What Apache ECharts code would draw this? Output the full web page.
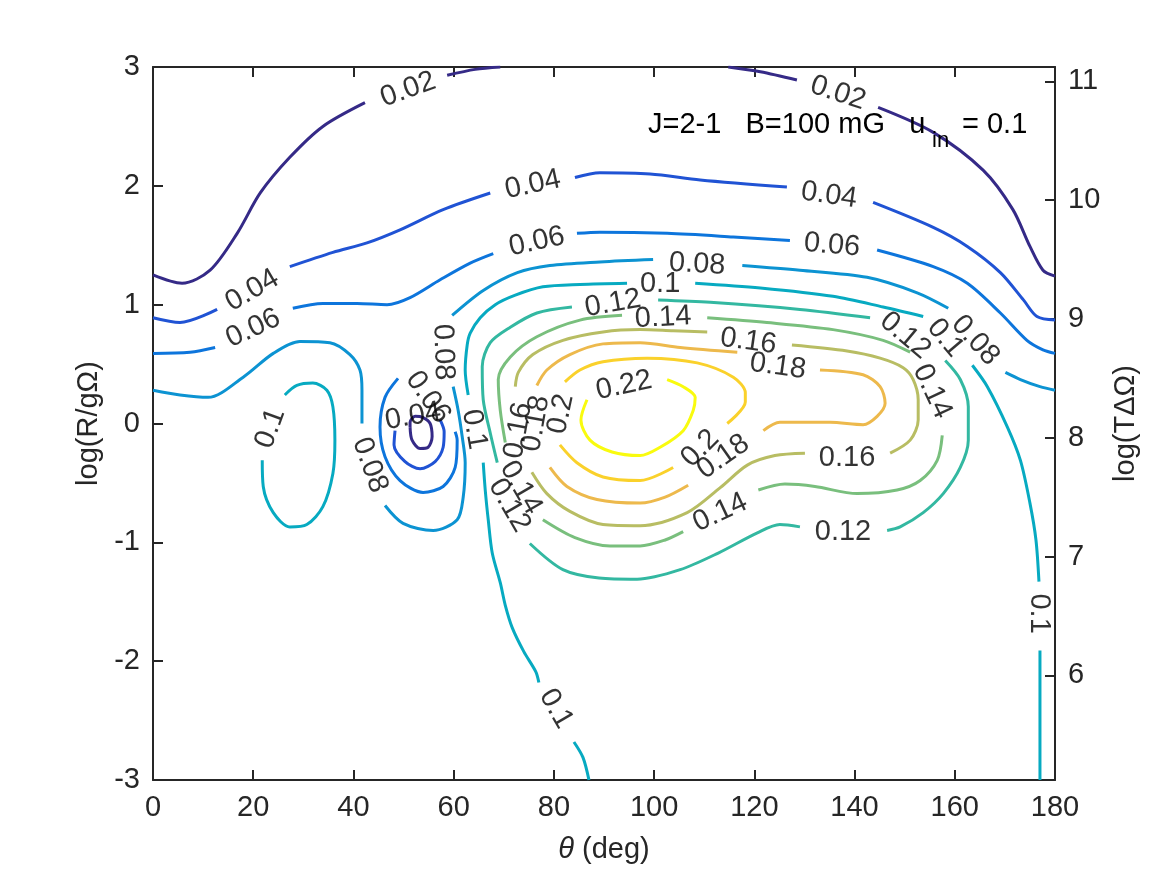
<!DOCTYPE html>
<html><head><meta charset="utf-8">
<script src="https://cdn.jsdelivr.net/npm/echarts@6/dist/echarts.min.js"></script>
<style>html,body{margin:0;padding:0;background:#fff}#c{width:1167px;height:875px}</style>
</head><body><div id="c"></div>
<script>
// contour levels and parula colours
const levels = ['0.02','0.04','0.06','0.08','0.1','0.12','0.14','0.16','0.18','0.2','0.22'];
const colors = ['#352a87','#2053d4','#0d75dc','#0c93d2','#07aac1','#33b8a1','#79bf7d','#b8bd63','#edb94c','#fad12b','#f9fb0e'];
const xTicks = [0,20,40,60,80,100,120,140,160,180];
const rightTicks = [6,7,8,9,10,11];

// contour segments: [theta (deg), log(R/gOmega)]
const c002 = [
 [[0,1.25],[5.8,1.18],[11.4,1.29],[16.8,1.60],[21.4,1.94],[27.3,2.24],[33.9,2.50],[42.3,2.70]],
 [[58.7,2.93],[64.3,2.98],[69.3,3.0]],
 [[114.8,3.0],[121.2,2.96],[128.5,2.89]],
 [[144.7,2.66],[155.7,2.45],[165.7,2.13],[171.6,1.80],[175.0,1.49],[177.6,1.29],[180,1.24]],
 [[51.3,-0.03],[51.7,-0.14],[53.3,-0.21],[54.9,-0.20],[55.7,-0.11],[55.3,0.0],[53.9,0.05],[52.3,0.06],[51.3,0.01],[51.3,-0.03]]
];
const c004 = [
 [[0,0.89],[5.4,0.85],[12.8,0.96]],
 [[27.3,1.32],[35.9,1.44],[42.7,1.52],[49.3,1.63],[57.9,1.80],[67.3,1.94]],
 [[84.2,2.07],[89.2,2.11],[99.2,2.10],[109.2,2.05],[126.5,1.99]],
 [[143.7,1.86],[155.7,1.65],[162.5,1.49],[169.1,1.27],[173.7,1.04],[176.4,0.90],[180,0.87]],
 [[57.3,0.03],[58.1,-0.07],[57.9,-0.20],[56.3,-0.32],[53.3,-0.38],[50.3,-0.32],[48.1,-0.18],[48.3,-0.06]]
];
const c006 = [
 [[0,0.59],[7.4,0.60],[12.4,0.64]],
 [[27.9,0.97],[33.9,1.01],[40.7,1.01],[46.7,1.00],[51.3,1.06],[57.3,1.21],[63.3,1.35],[67.9,1.43]],
 [[84.6,1.60],[89.2,1.61],[102.6,1.60],[115.8,1.57],[127.1,1.54]],
 [[144.5,1.46],[155.7,1.32],[162.5,1.18],[169.1,0.93],[174.4,0.70],[177.6,0.62],[180,0.59]],
 [[60.3,-0.07],[60.7,-0.14],[60.3,-0.37],[57.9,-0.53],[53.9,-0.58],[49.3,-0.48],[46.3,-0.28],[45.3,-0.03],[46.3,0.22],[48.9,0.38]]
];
const c008 = [
 [[0,0.28],[5.4,0.24],[11.0,0.22],[18.0,0.39],[24.0,0.59],[29.3,0.69],[35.3,0.68],[39.3,0.58],[41.3,0.45],[41.7,0.28],[41.7,0.0]],
 [[46.3,-0.69],[49.9,-0.84],[55.9,-0.90],[60.7,-0.81],[61.9,-0.62],[62.3,-0.33],[61.7,-0.11],[60.9,0.11],[59.9,0.31]],
 [[59.7,0.91],[65.9,1.12],[72.7,1.27],[79.2,1.33],[89.2,1.36],[99.8,1.38]],
 [[117.6,1.33],[129.1,1.29],[142.5,1.23],[152.5,1.10],[158.7,0.97]],
 [[170.1,0.43],[173.1,0.37],[177.0,0.31],[180,0.28]]
];
const c010 = [
 [[87.0,-3.0],[85.8,-2.81],[84.0,-2.68]],
 [[77.0,-2.18],[76.4,-2.09],[74.0,-1.92],[71.7,-1.72],[70.3,-1.53],[69.3,-1.34],[67.7,-1.09],[66.9,-0.81],[66.3,-0.56],[65.9,-0.33]],
 [[62.9,0.24],[62.3,0.45],[62.7,0.66],[63.3,0.76],[65.3,0.89],[68.3,1.00],[72.3,1.08],[77.8,1.15],[85.2,1.17],[94.6,1.18]],
 [[108.2,1.18],[121.2,1.14],[135.7,1.07],[145.7,0.98],[153.7,0.90]],
 [[163.5,0.49],[166.5,0.31],[170.5,-0.03],[173.1,-0.31],[175.0,-0.67],[176.2,-0.98],[176.8,-1.33]],
 [[177.0,-1.91],[177.0,-2.61],[177.0,-3.0]],
 [[21.8,-0.31],[22.0,-0.53],[24.0,-0.75],[27.3,-0.87],[30.7,-0.85],[33.9,-0.70],[35.9,-0.42],[36.3,-0.14],[35.9,0.14],[34.7,0.28],[31.9,0.34],[28.7,0.32],[26.3,0.24]]
];
const c012 = [
 [[68.7,-0.33],[67.3,-0.08],[65.9,0.20],[65.7,0.48],[67.3,0.68],[71.3,0.81],[76.6,0.93],[83.6,0.98]],
 [[100.8,1.04],[111.2,1.02],[129.1,0.96],[143.1,0.89]],
 [[158.1,0.53],[161.1,0.37],[162.7,0.14],[162.7,-0.14],[161.1,-0.37],[157.7,-0.59],[153.7,-0.75],[149.1,-0.87],[146.5,-0.90]],
 [[129.1,-0.87],[125.1,-0.85],[120.6,-0.92],[112.8,-1.09],[105.2,-1.23],[96.6,-1.31],[89.0,-1.30],[81.8,-1.23],[75.2,-1.01]]
];
const c014 = [
 [[70.3,-0.16],[69.3,0.11],[68.9,0.37],[71.3,0.56],[76.6,0.73],[85.2,0.87],[93.6,0.91]],
 [[110.6,0.89],[122.5,0.85],[135.7,0.79],[145.7,0.70],[151.1,0.60]],
 [[157.5,-0.10],[156.5,-0.31],[153.1,-0.48],[148.5,-0.56],[140.5,-0.59],[132.1,-0.53],[126.1,-0.51],[120.8,-0.56]],
 [[105.8,-0.91],[102.2,-0.98],[97.2,-1.03],[91.2,-1.03],[84.2,-0.96],[77.8,-0.81]]
];
const c016 = [
 [[72.3,0.31],[72.9,0.43],[75.8,0.58],[81.8,0.70],[89.8,0.77],[97.2,0.79],[103.8,0.78],[110.6,0.77]],
 [[127.5,0.66],[138.5,0.61],[145.1,0.55],[149.7,0.47],[151.7,0.37],[152.7,0.20],[152.7,0.03],[151.1,-0.14],[147.1,-0.25]],
 [[130.1,-0.25],[124.1,-0.27],[118.6,-0.35],[113.2,-0.54],[106.6,-0.75],[97.2,-0.86],[89.8,-0.85],[83.2,-0.74],[78.6,-0.59],[75.6,-0.41]]
];
const c018 = [
 [[76.6,0.32],[78.6,0.45],[83.2,0.58],[89.8,0.67],[97.2,0.68],[105.2,0.64],[116.6,0.60]],
 [[133.1,0.45],[141.7,0.41],[145.1,0.31],[146.1,0.17],[144.5,0.06],[141.7,-0.01],[135.1,0.01],[125.1,0.01],[121.8,-0.06]],
 [[106.8,-0.52],[102.2,-0.62],[97.2,-0.67],[88.6,-0.64],[82.6,-0.53],[79.2,-0.37]]
];
const c020 = [
 [[82.2,0.35],[85.2,0.45],[89.8,0.52],[98.6,0.55],[108.6,0.51],[115.8,0.39],[118.2,0.26],[118.2,0.18],[114.6,0.0]],
 [[103.8,-0.37],[97.2,-0.48],[89.8,-0.45],[84.6,-0.33],[81.2,-0.18]]
];
const c022 = [
 [[102.6,0.37],[105.8,0.31],[108.2,0.22],[107.8,0.11],[105.8,-0.06],[101.2,-0.20],[97.2,-0.27],[91.6,-0.24],[87.2,-0.14],[85.4,0.03],[86.6,0.20]]
];

// inline contour labels: [theta, logR, angle]
const lab002 = [[50.9,2.81,20],[136.7,2.78,-18]];
const lab004 = [[19.8,1.12,30],[75.8,2.01,12],[134.9,1.92,-8],[51.9,0.06,10]];
const lab006 = [[20.0,0.80,25],[76.6,1.53,12],[135.5,1.50,-5],[54.9,0.22,-55]];
const lab008 = [[108.6,1.34,-3],[164.1,0.70,-48],[57.9,0.60,-88],[43.3,-0.35,-70]];
const lab010 = [[101.2,1.17,0],[158.1,0.72,-50],[80.4,-2.40,-60],[176.8,-1.60,-90],[64.1,-0.05,-80],[23.4,-0.04,70]];
const lab012 = [[91.8,1.01,10],[150.1,0.74,-40],[137.7,-0.91,0],[71.1,-0.69,-60]];
const lab014 = [[101.8,0.89,3],[155.5,0.27,-65],[113.2,-0.75,25],[73.4,-0.54,-60]];
const lab016 = [[118.8,0.69,-8],[138.5,-0.29,0],[72.9,-0.06,80]];
const lab018 = [[124.7,0.48,-8],[113.8,-0.28,35],[76.4,0.0,80]];
const lab020 = [[109.2,-0.21,45],[81.4,0.08,78]];
const lab022 = [[94.0,0.32,12]];

const contours = [c002,c004,c006,c008,c010,c012,c014,c016,c018,c020,c022];
const labels = [lab002,lab004,lab006,lab008,lab010,lab012,lab014,lab016,lab018,lab020,lab022];

const FONT = '"Liberation Sans", Arial, Helvetica, sans-serif';
const TXT = '#262626';
const FS = 29;

const series = [];
levels.forEach((lv, i) => {
  contours[i].forEach(seg => {
    series.push({
      type: 'line', data: seg, smooth: 0.3, symbol: 'none', silent: true, z: 2,
      xAxisIndex: 0, yAxisIndex: 0,
      lineStyle: { color: colors[i], width: 3 }
    });
  });
});
const labelData = [];
levels.forEach((lv, i) => {
  labels[i].forEach(l => labelData.push({ name: lv, value: [l[0], l[1]], label: { rotate: l[2] } }));
});
series.push({
  type: 'scatter', data: labelData, symbolSize: 0, silent: true, z: 5,
  xAxisIndex: 0, yAxisIndex: 0,
  label: { show: true, position: 'inside', formatter: '{b}', fontSize: FS, fontFamily: FONT, color: '#000' }
});

const axisLineStyle = { show: true, onZero: false, lineStyle: { color: TXT, width: 2 } };
const tickStyle = { show: true, inside: true, length: 10, lineStyle: { color: TXT, width: 2 } };
const labelStyle = { color: TXT, fontSize: FS, fontFamily: FONT, margin: 13 };

const chart = echarts.init(document.getElementById('c'));
chart.setOption({
  animation: false,
  backgroundColor: '#fff',
  grid: { left: 153, right: 112, top: 67, bottom: 95, containLabel: false },
  xAxis: [
    { type: 'value', min: 0, max: 180, interval: 20, position: 'bottom',
      axisLine: axisLineStyle, axisTick: tickStyle, axisLabel: labelStyle, splitLine: { show: false },
      name: '{it|θ} (deg)', nameLocation: 'middle', nameGap: 55,
      nameTextStyle: { color: TXT, fontSize: FS, fontFamily: FONT,
        rich: { it: { fontStyle: 'italic', fontSize: FS, fontFamily: FONT, color: TXT } } } },
    { type: 'value', min: 0, max: 180, interval: 20, position: 'top',
      axisLine: axisLineStyle, axisTick: tickStyle, axisLabel: { show: false }, splitLine: { show: false } }
  ],
  yAxis: [
    { type: 'value', min: -3, max: 3, interval: 1, position: 'left',
      axisLine: axisLineStyle, axisTick: tickStyle, axisLabel: labelStyle, splitLine: { show: false },
      name: 'log(R/gΩ)', nameLocation: 'middle', nameGap: 38, nameRotate: 90,
      nameTextStyle: { color: TXT, fontSize: FS, fontFamily: FONT } },
    { type: 'value', min: 5.12, max: 11.12, position: 'right',
      axisLine: axisLineStyle,
      axisTick: Object.assign({}, tickStyle, { customValues: rightTicks }),
      axisLabel: Object.assign({}, labelStyle, { customValues: rightTicks }),
      splitLine: { show: false },
      name: 'log(TΔΩ)', nameLocation: 'middle', nameGap: 56, nameRotate: 90,
      nameTextStyle: { color: TXT, fontSize: FS, fontFamily: FONT } }
  ],
  graphic: [
    { type: 'text', left: 648, top: 110, z: 10, silent: true,
      style: { text: 'J=2-1   B=100 mG   u', font: FS + 'px ' + FONT, fill: '#000' } },
    { type: 'text', left: 932, top: 130, z: 10, silent: true,
      style: { text: 'in', font: '22px ' + FONT, fill: '#000' } },
    { type: 'text', left: 962, top: 110, z: 10, silent: true,
      style: { text: '= 0.1', font: FS + 'px ' + FONT, fill: '#000' } }
  ],
  series: series
});
</script>
</body></html>
